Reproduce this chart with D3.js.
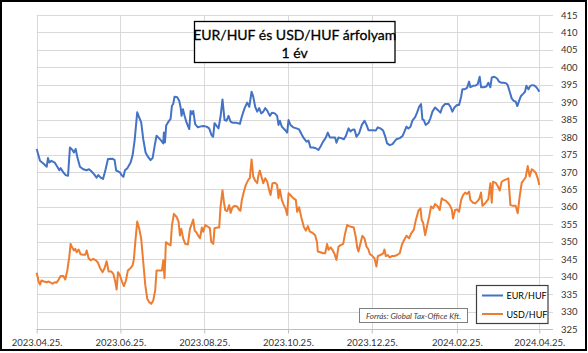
<!DOCTYPE html>
<html lang="hu">
<head>
<meta charset="UTF-8" />
<script src="https://d3js.org/d3.v7.min.js"></script>
<title>EUR/HUF és USD/HUF árfolyam</title>
<style>
  body { margin: 0; background: #fff; }
  text { font-family: Lato, "Open Sans", sans-serif; }
</style>
</head>
<body>
<script>
// days since 2023.04.25. and rates
var eurDays = [0,2.4,5.3,7.3,8.2,9.2,10.7,13.1,15.0,16.5,17.4,19.4,21.1,22.8,24.2,25.9,27.1,28.4,29.6,31.5,33.9,36.4,38.1,39.8,41.7,43.6,44.9,46.6,48.3,50.2,51.9,55.0,56.7,57.9,59.2,60.6,61.6,63.1,64.3,66.0,68.4,69.8,71.3,73.2,74.7,76.1,77.6,79.3,81.0,82.9,84.4,85.9,87.3,89.0,90.7,92.2,92.6,93.4,94.3,95.6,97.5,98.5,99.4,100.4,102.3,103.8,104.8,105.5,106.5,107.7,109.1,111.1,112.1,113.0,114.0,115.4,117.4,118.9,121.3,123.7,125.6,127.3,128.5,129.5,131.0,132.4,133.9,135.3,136.8,138.3,139.7,141.2,143.1,145.5,148.0,149.4,151.4,153.3,154.8,156.5,157.7,159.1,160.6,162.0,163.5,165.0,166.4,167.9,169.8,171.3,173.4,175.1,176.1,177.1,178.5,180.5,182.4,183.4,184.8,186.8,189.2,191.1,192.8,194.5,196.5,197.9,199.4,201.3,203.3,205.2,206.7,208.6,210.6,212.0,213.5,215.4,217.3,218.3,219.8,221.7,223.7,225.1,227.1,228.5,230.0,231.4,232.9,234.8,236.8,238.7,240.2,241.6,242.6,245.0,247.0,248.4,250.3,252.3,253.7,255.2,257.1,259.1,260.5,262.0,264.4,266.4,267.8,269.3,270.7,272.2,273.6,275.6,277.0,278.5,279.9,280.9,281.9,283.3,285.3,286.7,288.2,290.1,292.1,294.0,295.5,297.4,299.8,301.3,302.7,304.2,306.1,307.6,309.1,310.0,311.5,313.4,314.9,315.8,317.8,319.7,321.2,322.6,323.6,325.5,327.5,328.9,330.4,331.4,333.3,335.3,336.7,338.2,340.1,342.0,343.0,344.5,345.9,347.4,348.8,350.0,351.3,352.7,354.2,355.6,356.6,358.1,359.5,361.0,362.4,363.9,365.3,366];
var eurRates = [376.6,373.2,372.3,371.5,374.0,372.7,373.2,372.7,371.5,370.5,371.1,369.9,369.1,368.9,377.0,376.4,375.6,376.6,374.2,371.5,370.8,370.5,370.8,370.2,369.4,368.4,369.1,368.4,368.0,370.8,373.7,373.8,373.5,370.4,370.2,369.9,369.2,368.6,370.5,371.1,372.7,374.7,379.0,387.1,385.6,384.2,379.4,375.6,374.4,373.4,374.0,377.5,380.4,379.7,379.0,378.2,381.3,378.5,383.3,384.2,385.2,389.0,389.5,391.6,391.4,390.4,388.5,386.1,388.0,386.1,384.2,382.3,387.5,386.6,387.5,383.7,382.8,383.0,383.2,383.0,382.5,380.6,380.1,384.0,383.2,382.5,385.9,390.8,384.9,384.7,386.1,384.4,384.1,384.1,383.8,385.9,388.3,389.9,388.7,393.0,391.6,388.7,387.3,388.3,386.8,387.3,388.3,387.6,386.1,387.0,386.8,386.1,383.5,384.7,383.0,382.2,381.3,384.9,383.5,382.8,382.5,382.2,380.9,379.7,378.7,379.0,377.0,377.0,376.8,376.3,377.3,378.7,379.9,381.3,379.9,379.9,379.9,378.4,379.9,379.7,379.4,380.3,382.5,381.6,382.1,382.2,380.1,381.1,383.5,384.7,383.5,382.0,382.0,382.0,381.9,382.8,382.5,381.9,380.3,378.2,377.7,378.0,378.7,379.4,379.7,380.3,381.6,383.0,382.5,383.0,384.7,385.7,387.0,388.7,389.5,385.1,384.9,383.5,384.1,385.4,387.3,388.5,387.8,387.0,388.7,389.5,389.5,388.7,387.3,388.5,389.2,389.2,391.6,393.7,393.7,394.1,395.9,394.3,394.7,394.8,395.2,397.3,394.3,394.3,394.5,395.6,394.3,397.1,397.3,396.8,395.9,395.6,395.6,395.4,394.9,393.0,391.1,390.4,390.2,388.9,390.4,391.8,392.4,393.0,394.7,393.7,394.7,394.9,394.8,394.3,393.5,393.0];

var usdDays = [0,1.4,2.4,3.4,5.3,7.3,8.7,10.2,11.6,13.1,14.5,16.0,17.4,19.4,20.8,22.3,23.7,24.7,25.7,27.1,28.1,29.1,30.5,32.0,33.9,35.4,36.4,37.8,39.3,41.2,43.2,44.6,46.1,48.0,49.5,50.9,52.4,54.3,55.8,57.2,58.2,59.2,60.6,62.1,63.5,65.0,66.4,68.4,69.8,70.8,71.8,73.2,74.7,76.1,77.6,79.1,80.5,82.0,83.4,84.9,86.3,87.3,89.2,91.2,92.2,93.1,94.1,95.6,97.5,98.5,99.9,101.9,103.3,104.3,105.3,106.7,108.2,110.1,111.6,113.0,114.0,115.0,116.4,117.9,118.9,120.3,121.3,122.7,124.7,126.1,127.1,128.6,129.5,131.5,132.9,133.9,135.3,136.3,137.3,138.7,140.2,141.2,142.6,144.1,146.0,147.5,148.4,149.4,150.9,152.3,154.3,155.2,156.5,157.7,159.1,160.6,161.5,162.5,164.0,165.0,166.4,167.9,169.3,170.3,171.7,173.7,175.1,176.1,177.1,178.5,180.0,181.4,182.4,183.4,184.8,186.8,188.7,189.7,191.1,192.6,194.5,196.0,197.5,198.9,200.8,202.8,204.2,204.7,206.7,208.6,210.1,211.5,212.5,214.0,215.4,216.9,218.3,219.8,221.7,223.2,224.6,226.1,227.5,229.0,230.9,232.4,233.4,234.3,235.8,237.2,238.7,240.2,241.6,242.6,244.5,246.0,247.4,248.4,250.3,252.3,253.3,254.2,255.7,257.1,258.6,260.5,262.5,264.4,265.9,267.3,269.3,271.2,272.7,274.6,276.1,278.0,279.5,280.4,281.4,282.9,284.3,285.8,287.2,288.7,290.1,292.1,293.5,295.0,296.4,297.9,299.3,300.8,302.3,303.2,304.7,306.1,307.6,309.1,310.5,312.0,313.4,314.9,315.8,317.8,319.2,320.7,322.2,323.6,324.6,326.0,327.5,328.9,330.4,331.4,332.3,334.3,335.7,337.2,338.6,340.6,342.0,343.5,345.0,346.9,348.8,350.3,351.7,353.2,354.7,356.1,357.6,359.0,360.5,361.9,363.4,364.9,366];
var usdRates = [341.1,338.6,337.7,338.9,338.6,338.4,338.6,338.3,338.0,338.4,338.3,339.2,340.2,340.2,339.2,341.8,345.6,349.4,348.5,347.5,348.0,347.0,347.8,346.4,346.3,346.3,347.5,345.3,344.7,345.1,344.7,344.0,342.5,341.3,342.5,344.4,341.5,341.5,340.8,338.6,336.3,341.3,340.4,338.6,337.3,338.9,341.8,342.5,343.2,345.1,349.9,355.8,353.7,350.9,344.2,337.5,333.7,332.7,332.2,333.2,336.1,341.8,341.8,341.8,344.7,339.6,349.9,349.4,349.0,354.7,358.0,357.1,355.8,351.8,353.7,350.9,349.4,349.2,353.7,355.2,356.4,353.3,352.6,351.6,351.0,354.1,352.9,354.8,354.3,353.9,350.0,349.4,353.9,354.1,354.1,360.1,364.8,361.5,359.1,358.8,360.5,358.3,359.9,360.3,360.1,359.1,358.9,362.0,364.4,366.3,367.9,368.2,373.6,368.7,367.5,366.8,369.1,370.4,368.2,366.8,368.2,367.2,364.8,363.4,366.8,366.9,366.3,362.5,365.0,362.0,360.5,359.3,357.7,363.9,363.4,362.5,362.0,358.6,359.9,357.2,354.3,353.2,354.5,352.9,352.6,351.9,349.8,347.2,347.0,346.7,346.7,349.4,347.7,348.4,347.7,346.5,344.8,348.6,349.1,349.4,352.4,354.8,354.5,354.3,354.1,351.3,348.4,347.2,349.6,351.7,351.0,348.6,347.8,346.5,345.9,345.3,342.9,345.9,346.2,346.7,347.8,345.9,346.2,345.5,345.9,345.9,346.2,346.7,349.1,350.3,351.7,351.0,352.4,353.4,356.2,358.9,359.6,356.2,355.5,351.9,354.5,357.2,360.1,359.6,360.8,360.1,359.1,362.5,362.0,361.8,361.2,360.5,359.3,356.7,359.1,359.3,358.6,362.0,363.4,364.1,363.7,364.4,362.0,361.2,361.0,361.5,362.2,364.1,360.3,360.8,361.5,362.2,366.8,361.2,367.2,366.9,366.0,364.7,367.2,367.7,367.9,368.2,360.5,360.3,360.3,358.2,362.9,366.9,367.7,368.5,371.7,368.7,370.8,370.4,369.8,368.2,366.3];

var seriesNames = ["EUR/HUF", "USD/HUF"];
var xTickLabels = ["2023.04.25.", "2023.06.25.", "2023.08.25.", "2023.10.25.", "2023.12.25.", "2024.02.25.", "2024.04.25."];
var yTickValues = [325,330,335,340,345,350,355,360,365,370,375,380,385,390,395,400,405,410,415];
var titleLines = ["EUR/HUF és USD/HUF árfolyam", "1 év"];
var sourceText = "Forrás: Global Tax-Office Kft.";

var width = 588, height = 353;
var plot = {left: 36.7, right: 553, top: 15, bottom: 329};
var colors = ["#4472C4", "#ED7D31"];

var svg = d3.select("body").append("svg").attr("width", width).attr("height", height);

var parse = d3.timeParse("%Y.%m.%d.");
var start = parse(xTickLabels[0]);
function toDate(d) { return new Date(start.getTime() + d * 864e5); }

var x = d3.scaleTime().domain([start, new Date(2024, 4, 5)]).range([plot.left, plot.right]);
var y = d3.scaleLinear().domain([325, 415]).range([plot.bottom, plot.top]);

// gridlines
svg.append("g").selectAll("line").data(yTickValues).enter().append("line")
  .attr("x1", plot.left).attr("x2", plot.right)
  .attr("y1", function(d){ return Math.round(y(d)) + 0.5; })
  .attr("y2", function(d){ return Math.round(y(d)) + 0.5; })
  .attr("stroke", "#d9d9d9").attr("stroke-width", 1);

var tickDates = xTickLabels.map(parse);
svg.append("g").selectAll("line").data(tickDates).enter().append("line")
  .attr("x1", function(d){ return Math.round(x(d)) + 0.5; })
  .attr("x2", function(d){ return Math.round(x(d)) + 0.5; })
  .attr("y1", plot.top).attr("y2", plot.bottom)
  .attr("stroke", "#d9d9d9").attr("stroke-width", 1);

// x axis
var xAxis = svg.append("g").attr("transform", "translate(0," + (Math.round(plot.bottom) + 0.5) + ")")
  .call(d3.axisBottom(x).tickValues(tickDates).tickFormat(d3.timeFormat("%Y.%m.%d.")).tickSize(4).tickPadding(6).tickSizeOuter(0));
xAxis.select(".domain").attr("stroke", "#bfbfbf").attr("d", "M" + plot.left + ",0H" + plot.right);
xAxis.selectAll(".tick line").attr("stroke", "#bfbfbf");
xAxis.selectAll(".tick text").attr("font-size", "9.5px").attr("fill", "#333").attr("font-family", "Lato");

// y axis (right side)
var yAxis = svg.append("g").attr("transform", "translate(" + plot.right + ",0)")
  .call(d3.axisRight(y).tickValues(yTickValues).tickSize(0).tickPadding(8));
yAxis.select(".domain").remove();
yAxis.selectAll(".tick text").attr("font-size", "9.5px").attr("fill", "#333").attr("font-family", "Lato");

// lines
var line = d3.line()
  .x(function(d){ return x(toDate(d[0])); })
  .y(function(d){ return y(d[1]); });

var series = [d3.zip(eurDays, eurRates), d3.zip(usdDays, usdRates)];
svg.append("g").selectAll("path").data(series).enter().append("path")
  .attr("d", line)
  .attr("fill", "none")
  .attr("stroke", function(d, i){ return colors[i]; })
  .attr("stroke-width", 2)
  .attr("stroke-linejoin", "round");

// title box
var tb = svg.append("g");
tb.append("rect").attr("x", 194.5).attr("y", 21.5).attr("width", 200.5).attr("height", 41)
  .attr("fill", "#fff").attr("stroke", "#000").attr("stroke-width", 1.3);
tb.selectAll("text").data(titleLines).enter().append("text")
  .attr("x", 294.7).attr("y", function(d, i){ return 34.5 + i * 18; })
  .attr("text-anchor", "middle").attr("dominant-baseline", "central")
  .attr("font-size", "14px").attr("fill", "#000")
  .attr("stroke", "#000").attr("stroke-width", 0.3)
  .text(function(d){ return d; });

// source box
var sb = svg.append("g");
sb.append("rect").attr("x", 359.5).attr("y", 308.5).attr("width", 108).attr("height", 14)
  .attr("fill", "#fff").attr("stroke", "#7f7f7f").attr("stroke-width", 1);
sb.append("text").attr("x", 413.5).attr("y", 315.8)
  .attr("text-anchor", "middle").attr("dominant-baseline", "central")
  .attr("font-size", "8px").attr("font-style", "italic").attr("fill", "#404040")
  .text(sourceText);

// legend
var lg = svg.append("g");
lg.append("rect").attr("x", 476.5).attr("y", 285.5).attr("width", 71.5).attr("height", 38)
  .attr("fill", "#fff").attr("stroke", "#404040").attr("stroke-width", 1.2);
var items = lg.selectAll("g.item").data(seriesNames).enter().append("g")
  .attr("transform", function(d, i){ return "translate(0," + (295.5 + i * 18.5) + ")"; });
items.append("line").attr("x1", 482).attr("x2", 503).attr("y1", 0).attr("y2", 0)
  .attr("stroke", function(d, i){ return colors[i]; }).attr("stroke-width", 2);
items.append("text").attr("x", 506.5).attr("y", 0).attr("dominant-baseline", "central")
  .attr("font-size", "9px").attr("fill", "#000")
  .text(function(d){ return d; });

// outer frame
svg.append("rect").attr("x", 1).attr("y", 1).attr("width", 585).attr("height", 349)
  .attr("fill", "none").attr("stroke", "#000").attr("stroke-width", 2);
</script>
</body>
</html>
